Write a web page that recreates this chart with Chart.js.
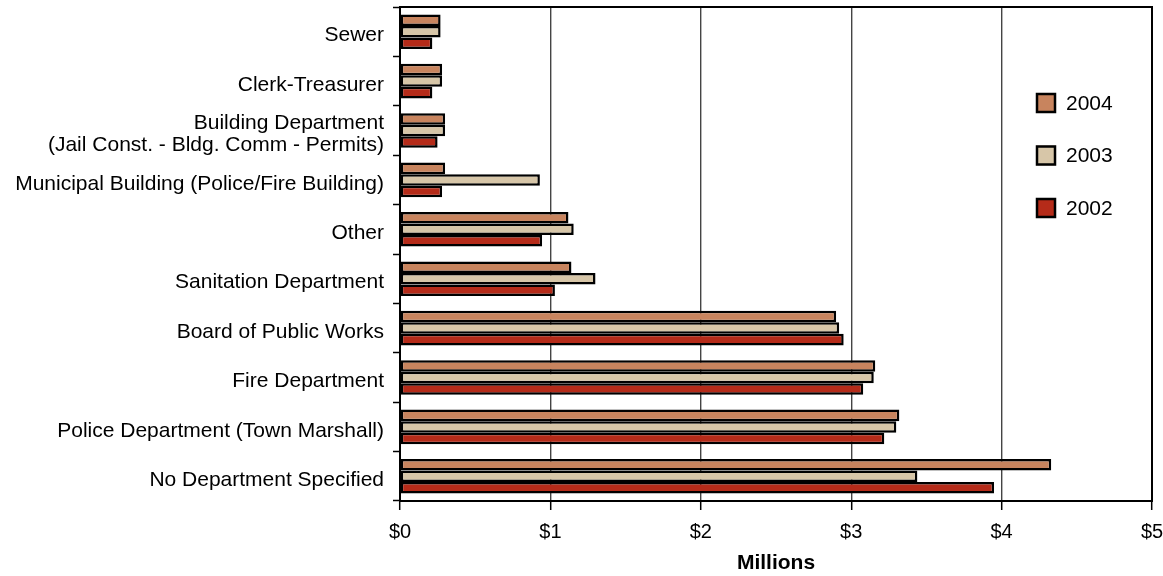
<!DOCTYPE html>
<html>
<head>
<meta charset="utf-8">
<script src="https://cdn.jsdelivr.net/npm/chart.js@4.4.0/dist/chart.umd.min.js"></script>
<style>
  html, body { margin: 0; padding: 0; background: #fff; }
  #wrap { width: 1163px; height: 576px; position: relative; }
</style>
</head>
<body>
<div id="wrap"><canvas id="chart"></canvas></div>
<script>
// departments, top to bottom
const departments = [
  'Sewer',
  'Clerk-Treasurer',
  ['Building Department', '(Jail Const. - Bldg. Comm - Permits)'],
  'Municipal Building (Police/Fire Building)',
  'Other',
  'Sanitation Department',
  'Board of Public Works',
  'Fire Department',
  'Police Department (Town Marshall)',
  'No Department Specified'
];
const years = ['2004', '2003', '2002'];
// millions of dollars
const values2004 = [0.27, 0.28, 0.30, 0.30, 1.12, 1.14, 2.90, 3.16, 3.32, 4.33];
const values2003 = [0.27, 0.28, 0.30, 0.93, 1.155, 1.30, 2.92, 3.15, 3.30, 3.44];
const values2002 = [0.215, 0.215, 0.25, 0.28, 0.945, 1.03, 2.95, 3.08, 3.22, 3.95];
const yearColors = ['#C8845E', '#D7C6A8', '#B52B19'];
const xTicks = [0, 1, 2, 3, 4, 5];

const FONT = '"Liberation Sans", Arial, Helvetica, sans-serif';

// box around the plot area + legend drawn inside it
const frameAndLegend = {
  id: 'frameAndLegend',
  afterDraw(chart) {
    const {ctx, chartArea: a} = chart;
    ctx.save();
    ctx.strokeStyle = '#000';
    ctx.lineWidth = 2;
    ctx.strokeRect(a.left, a.top, a.right - a.left, a.bottom - a.top);

    ctx.font = '21px ' + FONT;
    ctx.textBaseline = 'middle';
    ctx.textAlign = 'left';
    chart.data.datasets.forEach((ds, i) => {
      const cy = a.top + 96 + i * 52.5;
      const bx = a.right - 116;
      ctx.fillStyle = ds.backgroundColor;
      ctx.fillRect(bx, cy - 10, 20, 20);
      ctx.lineWidth = 2.5;
      ctx.strokeStyle = '#000';
      ctx.strokeRect(bx + 1, cy - 9, 18, 18);
      ctx.fillStyle = '#000';
      ctx.fillText(ds.label, a.right - 86, cy + 1);
    });
    ctx.restore();
  }
};

const seriesValues = [values2004, values2003, values2002];

new Chart(document.getElementById('chart'), {
  type: 'bar',
  data: {
    labels: departments,
    datasets: years.map((y, i) => ({
      label: y,
      data: seriesValues[i],
      backgroundColor: yearColors[i],
      borderColor: '#000',
      borderWidth: 2.5,
      borderSkipped: false,
      barPercentage: 1.0,
      categoryPercentage: 0.7
    }))
  },
  options: {
    indexAxis: 'y',
    responsive: true,
    maintainAspectRatio: false,
    animation: false,
    layout: { padding: { top: 7, right: 11, left: 0, bottom: 0 } },
    plugins: {
      legend: { display: false },
      tooltip: { enabled: false }
    },
    scales: {
      x: {
        min: 0,
        max: 5,
        afterBuildTicks: (scale) => { scale.ticks = xTicks.map(v => ({value: v})); },
        afterFit: (scale) => {
          scale.height = 75;
          scale.paddingLeft = 0;
          scale.paddingRight = 0;
        },
        grid: {
          color: (ctx) => (ctx.tick && (ctx.tick.value === 0 || ctx.tick.value === 5)) ? 'rgba(0,0,0,0)' : '#444',
          lineWidth: 1.4,
          tickLength: 9,
          tickColor: '#000',
          tickWidth: 1.5
        },
        border: { display: true, color: '#000', width: 2 },
        ticks: {
          color: '#000',
          padding: 10,
          font: { family: FONT, size: 20 },
          callback: (v) => '$' + v
        },
        title: {
          display: true,
          text: 'Millions',
          color: '#000',
          font: { family: FONT, size: 21, weight: 'bold' },
          padding: { top: 0, bottom: 0 }
        }
      },
      y: {
        afterFit: (scale) => {
          scale.width = 400;
          scale.paddingTop = 0;
          scale.paddingBottom = 0;
        },
        grid: {
          offset: true,
          drawOnChartArea: false,
          tickLength: 7,
          tickColor: '#000',
          tickWidth: 1.5
        },
        border: { display: true, color: '#000', width: 2 },
        ticks: {
          color: '#000',
          padding: 9,
          labelOffset: 4,
          font: { family: FONT, size: 21, lineHeight: 1.03 }
        }
      }
    }
  },
  plugins: [frameAndLegend]
});
</script>
</body>
</html>
